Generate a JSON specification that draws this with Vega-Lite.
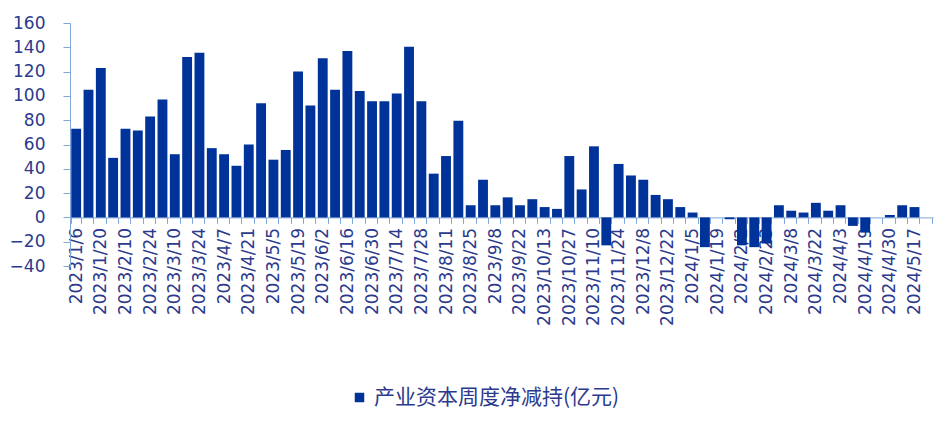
{
  "$schema": "https://vega.github.io/schema/vega-lite/v6.json",
  "width": 863,
  "height": 243,
  "autosize": {"type": "none"},
  "padding": {"left": 70, "top": 23, "right": 18, "bottom": 166},
  "background": "white",
  "config": {
    "view": {"stroke": null},
    "axis": {
      "grid": false,
      "domainColor": "#7FA7D9",
      "tickColor": "#7FA7D9",
      "labelColor": "#2B3A8C",
      "labelFont": "DejaVu Sans",
      "labelFontSize": 17
    }
  },
  "data": {
    "values": [
      {"date": "2023/1/6", "value": 73},
      {"date": "2023/1/13", "value": 105},
      {"date": "2023/1/20", "value": 123},
      {"date": "2023/2/3", "value": 49},
      {"date": "2023/2/10", "value": 73},
      {"date": "2023/2/17", "value": 71.5},
      {"date": "2023/2/24", "value": 83},
      {"date": "2023/3/3", "value": 97},
      {"date": "2023/3/10", "value": 52},
      {"date": "2023/3/17", "value": 132},
      {"date": "2023/3/24", "value": 135.5},
      {"date": "2023/3/31", "value": 57},
      {"date": "2023/4/7", "value": 52},
      {"date": "2023/4/14", "value": 42.5},
      {"date": "2023/4/21", "value": 60},
      {"date": "2023/4/28", "value": 94},
      {"date": "2023/5/5", "value": 47.5},
      {"date": "2023/5/12", "value": 55.5},
      {"date": "2023/5/19", "value": 120},
      {"date": "2023/5/26", "value": 92},
      {"date": "2023/6/2", "value": 131},
      {"date": "2023/6/9", "value": 105},
      {"date": "2023/6/16", "value": 137},
      {"date": "2023/6/21", "value": 104},
      {"date": "2023/6/30", "value": 95.5},
      {"date": "2023/7/7", "value": 95.5},
      {"date": "2023/7/14", "value": 102},
      {"date": "2023/7/21", "value": 140.5},
      {"date": "2023/7/28", "value": 95.5},
      {"date": "2023/8/4", "value": 36},
      {"date": "2023/8/11", "value": 50.5},
      {"date": "2023/8/18", "value": 79.5},
      {"date": "2023/8/25", "value": 10},
      {"date": "2023/9/1", "value": 31},
      {"date": "2023/9/8", "value": 10},
      {"date": "2023/9/15", "value": 16.5},
      {"date": "2023/9/22", "value": 10},
      {"date": "2023/9/28", "value": 15},
      {"date": "2023/10/13", "value": 8.5},
      {"date": "2023/10/20", "value": 7},
      {"date": "2023/10/27", "value": 50.5},
      {"date": "2023/11/3", "value": 23},
      {"date": "2023/11/10", "value": 58.5},
      {"date": "2023/11/17", "value": -23},
      {"date": "2023/11/24", "value": 44},
      {"date": "2023/12/1", "value": 34.5},
      {"date": "2023/12/8", "value": 31},
      {"date": "2023/12/15", "value": 18.5},
      {"date": "2023/12/22", "value": 15},
      {"date": "2023/12/29", "value": 8.5},
      {"date": "2024/1/5", "value": 4},
      {"date": "2024/1/12", "value": -24.5},
      {"date": "2024/1/19", "value": 0},
      {"date": "2024/1/26", "value": -1.5},
      {"date": "2024/2/2", "value": -23},
      {"date": "2024/2/8", "value": -24.5},
      {"date": "2024/2/23", "value": -21.5},
      {"date": "2024/3/1", "value": 10},
      {"date": "2024/3/8", "value": 5.5},
      {"date": "2024/3/15", "value": 4},
      {"date": "2024/3/22", "value": 12},
      {"date": "2024/3/29", "value": 5.5},
      {"date": "2024/4/3", "value": 10},
      {"date": "2024/4/12", "value": -7},
      {"date": "2024/4/19", "value": -12.5},
      {"date": "2024/4/26", "value": 0},
      {"date": "2024/4/30", "value": 2},
      {"date": "2024/5/10", "value": 10},
      {"date": "2024/5/17", "value": 8.5},
      {"date": "2024/5/24", "value": 0}
    ]
  },
  "mark": {"type": "bar"},
  "encoding": {
    "x": {
      "field": "date",
      "type": "nominal",
      "sort": null,
      "title": null,
      "scale": {"paddingInner": 0.2, "paddingOuter": 0.1},
      "axis": {
        "labelAngle": -90,
        "labelOverlap": false,
        "tickBand": "extent",
        "tickSize": 6,
        "labelPadding": 4,
        "offset": -48.6,
        "labelExpr": "round(datum.index * 69) % 2 == 0 ? datum.label : ''"
      }
    },
    "y": {
      "field": "value",
      "type": "quantitative",
      "title": null,
      "scale": {"domain": [-40, 160], "nice": false, "zero": true},
      "axis": {
        "values": [-40, -20, 0, 20, 40, 60, 80, 100, 120, 140, 160],
        "tickSize": 7,
        "labelPadding": 18
      }
    },
    "color": {
      "datum": "产业资本周度净减持(亿元)",
      "type": "nominal",
      "scale": {"range": ["#003399"]},
      "legend": {
        "title": null,
        "orient": "none",
        "legendX": 279,
        "legendY": 364,
        "symbolType": "square",
        "symbolSize": 90,
        "symbolStrokeWidth": 0,
        "labelFont": "Noto Sans CJK SC",
        "labelFontSize": 21,
        "labelColor": "#2B3A8C",
        "labelOffset": 4,
        "labelLimit": 0,
        "padding": 0
      }
    }
  }
}
